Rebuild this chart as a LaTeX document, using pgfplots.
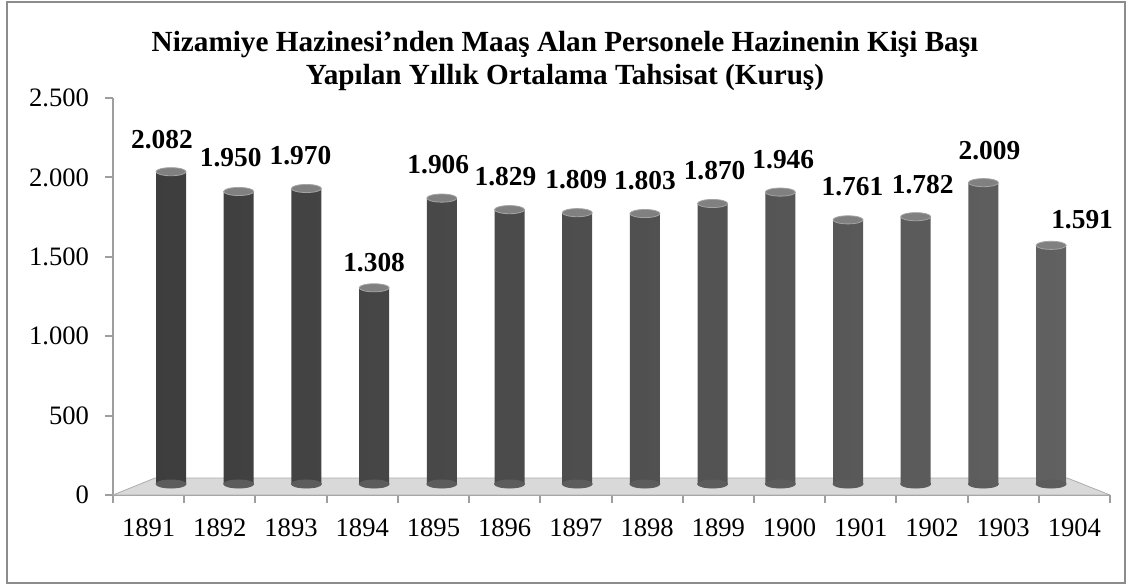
\documentclass[border=0pt]{standalone}
\usepackage{fontspec}
\setmainfont{Liberation Serif}
\usepackage{pgfplots}
\usepackage{pgfplotstable}
\pgfplotsset{compat=1.18}

% yil  deger  etiket kaydirma (pt)
\pgfplotstableread{
x  y     z  dx     dy
0  2082  0  -4.5   11.4
1  1950  0  -4.0   12.0
2  1970  0  -3.0   11.4
3  1308  0   0.0   7.85
4  1906  0  -1.75  11.8
5  1829  0  -2.0   11.8
6  1809  0  -0.5   11.6
7  1803  0   0.0   11.8
8  1870  0   1.0   11.6
9  1946  0   1.5   11.4
10 1761  0   2.25  11.8
11 1782  0   3.5   11.4
12 2009  0   3.0   11.4
13 1591  0  15.5   7.85
}\veriler

\definecolor{eksen}{gray}{0.62}

\begin{document}
\begin{tikzpicture}
\path[use as bounding box] (0pt,0pt) rectangle (563.5pt,-293.5pt);
\draw[black!45, line width=0.8pt] (3.5pt,-1pt) rectangle (562.5pt,-291.5pt);

\node[font=\bfseries\fontsize{14.6}{16.5}\selectfont, align=center] at (282.5pt,-30.5pt)
  {Nizamiye Hazinesi’nden Maaş Alan Personele Hazinenin Kişi Başı\\Yapılan Yıllık Ortalama Tahsisat (Kuruş)};

% on eksen: zemin, eksenler, etiketler
\begin{axis}[
  at={(56.5pt,-247.5pt)}, anchor=south west, scale only axis,
  width=498.5pt, height=198.5pt,
  xmin=0, xmax=14, ymin=0, ymax=2500,
  axis x line*=bottom, axis y line*=left,
  axis line style={draw=eksen, line width=1pt},
  tick style={draw=eksen, line width=1pt},
  tick align=outside, major tick length=4pt,
  ytick={0,500,...,2500},
  xtick={0,...,14}, xticklabels={},
  extra x ticks={0.5,1.5,...,13.5},
  extra x tick labels={1891,1892,1893,1894,1895,1896,1897,1898,1899,1900,1901,1902,1903,1904},
  extra x tick style={major tick length=0pt},
  /pgf/number format/1000 sep={.},
  /pgf/number format/assume math mode=true,
  ticklabel style={font=\fontsize{13.3}{15}\selectfont},
  xticklabel style={yshift=-8.5pt},
  yticklabel style={xshift=-4.5pt},
]
\fill[black!15, draw=black!32] (axis cs:0,0) -- (axis cs:14,0) -- (axis cs:13.4,107) -- (axis cs:0.59,107) -- cycle;
\end{axis}

% arka eksen: silindir cubuklar
\begin{axis}[
  at={(56.5pt,-247.5pt)}, anchor=south west, scale only axis,
  width=498.5pt, height=198.5pt,
  xmin=-0.857, xmax=13.870, ymin=-73.3, ymax=2573.3,
  hide axis, clip=false,
  /pgf/number format/1000 sep={.},
  /pgf/number format/assume math mode=true,
]
\addplot[only marks, mark=*, mark size=7.5pt, mark options={yscale=0.27, fill=black!64, draw=black!64}]
  table[x=x, y=z] {\veriler};
\addplot[ybar, bar width=15pt, draw=none,
  left color=black!76, middle color=black!40, right color=black!62,
  visualization depends on={\thisrow{dx} \as \dx},
  visualization depends on={\thisrow{dy} \as \dy},
  nodes near coords,
  every node near coord/.append style={inner sep=0pt, xshift=\dx pt, yshift=\dy pt,
    text=black, font=\bfseries\fontsize{13.7}{15}\selectfont}]
  table[x=x, y=y] {\veriler};
\addplot[only marks, mark=*, mark size=7.5pt, mark options={yscale=0.27, fill=black!50, draw=black!36, line width=0.4pt}]
  table[x=x, y=y] {\veriler};
\end{axis}
\end{tikzpicture}
\end{document}
